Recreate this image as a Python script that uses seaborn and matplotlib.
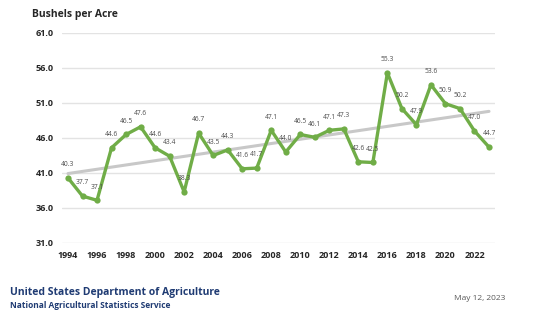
import numpy as np
import pandas as pd
import matplotlib
matplotlib.use("Agg")
import matplotlib.pyplot as plt
import seaborn as sns

years = list(range(1994, 2024))
yields = [40.3, 37.7, 37.1, 44.6, 46.5, 47.6, 44.6, 43.4, 38.3, 46.7,
          43.5, 44.3, 41.6, 41.7, 47.1, 44.0, 46.5, 46.1, 47.1, 47.3,
          42.6, 42.5, 55.3, 50.2, 47.9, 53.6, 50.9, 50.2, 47.0, 44.7]
xticks = list(range(1994, 2023, 2))
yticks = [31.0, 36.0, 41.0, 46.0, 51.0, 56.0, 61.0]

df = pd.DataFrame({"year": years, "yield": yields})
coef = np.polyfit(df["year"], df["yield"], 1)
df["trend"] = np.polyval(coef, df["year"])

sns.set_theme(style="white")
plt.rcParams['font.family'] = ['Open Sans', 'DejaVu Sans']

fig = plt.figure(figsize=(5.35, 3.25), dpi=100)
ax = fig.add_axes([62/535, 1-243/325, (495-62)/535, (243-33)/325])

green = "#70AD47"
sns.lineplot(data=df, x="year", y="trend", ax=ax, color="#C8C8C8", linewidth=2.2)
sns.lineplot(data=df, x="year", y="yield", ax=ax, color=green, linewidth=2.4,
             marker="o", markersize=4.5, markeredgewidth=0, markerfacecolor=green)

for x, y in zip(years, yields):
    ax.annotate(f"{y:.1f}", (x, y), xytext=(0, 7), textcoords="offset points",
                ha="center", va="bottom", fontsize=4.8, color="#4D4D4D")

ax.set_xlim(1994 - 6/14.54, 2023 + 6/14.54)
ax.set_ylim(31, 61)
ax.set_xticks(xticks)
ax.set_xticklabels([str(t) for t in xticks], fontsize=6.5, fontweight="bold", color="#262626")
ax.set_yticks(yticks)
ax.set_yticklabels([f"{t:.1f}" for t in yticks], fontsize=6.5, fontweight="bold", color="#262626")
ax.grid(axis="y", color="#E3E3E3", linewidth=1.0)
ax.set_axisbelow(True)
for s in ax.spines.values():
    s.set_visible(False)
ax.tick_params(axis="both", length=0, pad=6)
ax.set_xlabel("")
ax.set_ylabel("")

fig.text(32/535, 1-15/325, "Bushels per Acre", fontsize=7.5, fontweight="bold",
         color="#262626", ha="left", va="center")
fig.text(10/535, 1-292/325, "United States Department of Agriculture", fontsize=7.5,
         fontweight="bold", color="#1F3B73", ha="left", va="center")
fig.text(10/535, 1-305/325, "National Agricultural Statistics Service", fontsize=6,
         fontweight="bold", color="#1F3B73", ha="left", va="center")
fig.text(505/535, 1-298/325, "May 12, 2023", fontsize=6, color="#595959",
         ha="right", va="center")

fig.savefig("out.png", dpi=100, facecolor="white")
